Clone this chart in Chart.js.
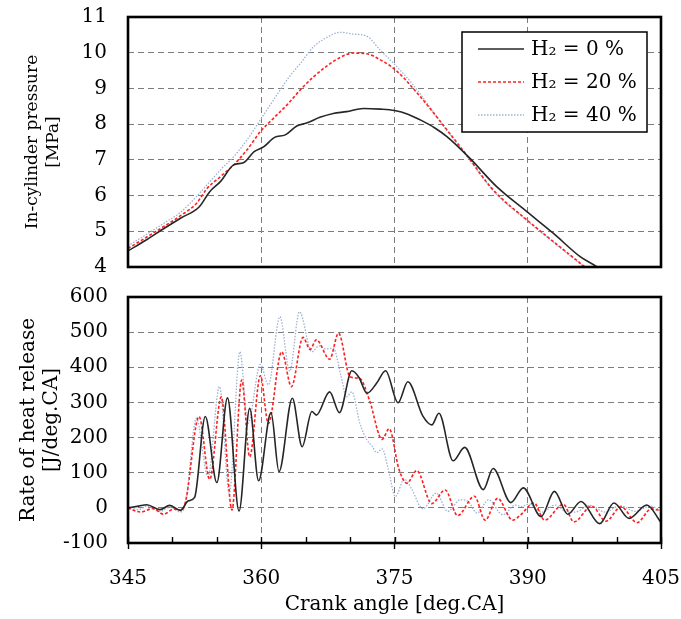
<!DOCTYPE html>
<html>
<head>
<meta charset="utf-8">
<script src="https://cdn.jsdelivr.net/npm/chart.js@4.4.1/dist/chart.umd.min.js"></script>
<style>
  html, body { margin: 0; padding: 0; background: #fff; }
  #wrap { position: relative; width: 681px; height: 619px; }
  #pressure { position: absolute; left: 0; top: 0; }
  #rohr { position: absolute; left: 0; top: 280px; }
</style>
</head>
<body>
<div id="wrap">
  <canvas id="pressure" width="681" height="280"></canvas>
  <canvas id="rohr" width="681" height="339"></canvas>
</div>
<script>
// Series names (hydrogen fraction)
const seriesLabels = ['H\u2082 = 0 %', 'H\u2082 = 20 %', 'H\u2082 = 40 %'];

// In-cylinder pressure [MPa] vs crank angle [deg.CA]
const pAngle0 = [345, 347, 349, 351, 353, 354.2, 355.4, 356.9, 358.0, 359.2, 360.3, 361.5, 362.7, 364.0, 365.1, 366.6, 368.1, 369.6, 371.5, 373.4, 375.0, 376.5, 377.9, 379.5, 380.9, 383.5, 386.5, 389.9, 392.9, 395.9, 397.8, 399.5];
const pValue0 = [4.45, 4.75, 5.07, 5.38, 5.68, 6.11, 6.39, 6.86, 6.92, 7.23, 7.37, 7.63, 7.70, 7.95, 8.03, 8.19, 8.30, 8.35, 8.44, 8.42, 8.38, 8.28, 8.12, 7.90, 7.65, 7.04, 6.25, 5.55, 4.94, 4.29, 4.00, 3.65];

const pAngle20 = [345, 347, 349, 351, 352.7, 353.9, 355.4, 356.9, 358.4, 359.9, 361.4, 362.9, 364.4, 365.9, 367.4, 368.9, 370.4, 371.9, 373.4, 375.1, 377.9, 380.9, 383.1, 386.1, 389.9, 392.9, 396.3, 398.0];
const pValue20 = [4.52, 4.82, 5.13, 5.45, 5.78, 6.20, 6.53, 6.86, 7.28, 7.79, 8.17, 8.54, 8.96, 9.33, 9.63, 9.87, 9.99, 9.97, 9.80, 9.52, 8.77, 7.84, 7.14, 6.16, 5.32, 4.71, 4.03, 3.70];

const pAngle40 = [345, 347, 349, 351, 352.7, 353.9, 355.4, 356.9, 358.4, 359.9, 361.4, 362.9, 364.4, 365.9, 367.4, 368.9, 370.4, 371.9, 373.4, 374.9, 377.1, 380.9, 383.1, 386.1, 389.9, 392.9, 396.3, 398.0];
const pValue40 = [4.59, 4.90, 5.22, 5.55, 5.97, 6.30, 6.72, 7.09, 7.56, 8.12, 8.68, 9.24, 9.70, 10.17, 10.43, 10.57, 10.52, 10.46, 10.07, 9.70, 9.10, 7.82, 7.12, 6.14, 5.30, 4.69, 4.01, 3.68];

// Rate of heat release [J/deg.CA] vs crank angle [deg.CA]
const hAngle0 = [345, 346.2, 347.1, 348.6, 349.7, 350.9, 351.8, 352.5, 353.7, 355.0, 356.2, 357.5, 358.7, 359.7, 361.1, 362.0, 363.5, 364.6, 365.7, 366.2, 367.7, 368.8, 370.2, 371.0, 371.9, 373.0, 374.0, 375.4, 376.5, 378.2, 379.2, 380.0, 381.6, 382.9, 385.0, 386.1, 388.1, 389.5, 391.5, 393.0, 394.5, 396.0, 398.1, 399.7, 401.4, 403.4, 405];
const hValue0 = [0, 5, 9, -5, 7, -7, 20, 30, 260, 72, 313, -9, 283, 77, 271, 103, 312, 174, 274, 264, 330, 271, 390, 371, 326, 355, 390, 299, 359, 261, 236, 269, 134, 172, 52, 112, 15, 57, -25, 47, -18, 18, -45, 14, -30, 8, -42];

const hAngle20 = [345, 346.4, 347.8, 349.0, 350.2, 351.0, 351.5, 353.0, 354.2, 355.5, 356.7, 357.8, 358.7, 359.9, 360.8, 362.3, 363.4, 364.7, 365.5, 366.2, 367.7, 368.7, 370.0, 371.1, 372.2, 373.6, 374.4, 375.5, 376.4, 377.5, 379.2, 380.7, 382.1, 384.0, 385.2, 386.6, 388.3, 389.2, 390.7, 391.9, 394.0, 395.2, 397.2, 398.8, 400.5, 402.3, 403.9, 405];
const hValue20 = [0, -12, -2, -18, -3, -8, 20, 260, 81, 316, -6, 364, 145, 376, 240, 444, 345, 485, 451, 478, 423, 497, 373, 368, 305, 195, 225, 110, 70, 106, 12, 51, -22, 33, -35, 27, -35, -20, 14, -35, 10, -40, 5, -38, 3, -42, -3, -8];

const hAngle40 = [345, 346.2, 347.1, 348.6, 349.7, 350.9, 351.5, 352.7, 354.0, 355.3, 356.4, 357.6, 358.5, 359.9, 360.8, 362.1, 363.2, 364.3, 365.7, 366.5, 367.3, 368.1, 369.0, 369.6, 370.2, 371.1, 371.9, 372.5, 373.0, 373.6, 374.3, 375.1, 376.1, 376.9, 378.2, 379.7, 381.0, 382.4, 383.2, 384.3, 385.6, 387.2, 388.6, 389.3, 390.1, 391.6, 393.1, 394.4, 395.3, 397.0, 398.7, 400.4, 402.1, 403.8, 405];
const hValue40 = [3, -5, 5, -10, 2, -12, 15, 255, 89, 345, 41, 444, 240, 408, 350, 544, 389, 558, 444, 461, 452, 455, 373, 316, 330, 240, 193, 175, 157, 168, 110, 32, 82, 55, -3, 42, -10, 23, 20, -15, 23, -20, 8, 4, 11, -12, 8, -12, -12, 7, -12, 6, -10, 5, -8];

// Axis ticks and titles
const angleTicks = [345, 360, 375, 390, 405];
const pressureTitle = ['In-cylinder pressure', '[MPa]'];
const rohrTitle = ['Rate of heat release', '[J/deg.CA]'];
const angleTitle = 'Crank angle [deg.CA]';

const SERIF = '"DejaVu Serif", "Liberation Serif", serif';
const GRID = '#7c7c7c';

const styles = [
  { borderColor: '#262626', borderWidth: 1.6, borderDash: [] },
  { borderColor: '#ff1f1f', borderWidth: 1.6, borderDash: [3, 2] },
  { borderColor: '#9fb2d2', borderWidth: 1.3, borderDash: [1.5, 1.5] }
];

function pairs(xs, ys) { return xs.map((x, i) => ({ x: x, y: ys[i] })); }

function makeDatasets(sets) {
  return sets.map((s, i) => Object.assign({
    label: seriesLabels[i],
    data: pairs(s[0], s[1]),
    pointRadius: 0,
    fill: false,
    cubicInterpolationMode: 'monotone'
  }, styles[i]));
}

// Keep the plot area fixed: no extra room reserved for overhanging tick labels
function noPadding(s) {
  s.paddingTop = 0; s.paddingBottom = 0; s.paddingLeft = 0; s.paddingRight = 0;
}

// Thick black frame around the plot area
const framePlugin = {
  id: 'frame',
  afterDraw(chart) {
    const a = chart.chartArea, ctx = chart.ctx;
    ctx.save();
    ctx.strokeStyle = '#000';
    ctx.lineWidth = 2.6;
    ctx.setLineDash([]);
    ctx.strokeRect(a.left, a.top, a.right - a.left, a.bottom - a.top);
    ctx.restore();
  }
};

// Inward minor tick marks every 5 deg along the bottom axis
const minorTickPlugin = {
  id: 'minorTicks',
  afterDraw(chart) {
    const x = chart.scales.x, a = chart.chartArea, ctx = chart.ctx;
    ctx.save();
    ctx.strokeStyle = '#000';
    ctx.lineWidth = 1.4;
    for (let v = x.min; v <= x.max; v += 5) {
      const px = Math.round(x.getPixelForValue(v)) + 0.5;
      ctx.beginPath();
      ctx.moveTo(px, a.bottom);
      ctx.lineTo(px, a.bottom - 6);
      ctx.stroke();
    }
    ctx.restore();
  }
};

// Boxed legend in the upper right of the pressure plot
const boxLegendPlugin = {
  id: 'boxLegend',
  afterDraw(chart) {
    const ctx = chart.ctx, a = chart.chartArea;
    const bx = a.right - 199, by = a.top + 15, bw = 185, bh = 100;
    ctx.save();
    ctx.fillStyle = '#fff';
    ctx.fillRect(bx, by, bw, bh);
    ctx.strokeStyle = '#000';
    ctx.lineWidth = 1.5;
    ctx.strokeRect(bx, by, bw, bh);
    ctx.font = '20px ' + SERIF;
    ctx.textBaseline = 'middle';
    ctx.fillStyle = '#000';
    chart.data.datasets.forEach((ds, i) => {
      const y = by + 17 + i * 33;
      ctx.strokeStyle = ds.borderColor;
      ctx.lineWidth = ds.borderWidth;
      ctx.setLineDash(ds.borderDash || []);
      ctx.beginPath();
      ctx.moveTo(bx + 16, y);
      ctx.lineTo(bx + 62, y);
      ctx.stroke();
      ctx.setLineDash([]);
      ctx.fillText(ds.label, bx + 69, y + 1);
    });
    ctx.restore();
  }
};

function edgeColor(lo, hi) {
  return (c) => (c.tick && (c.tick.value === lo || c.tick.value === hi)) ? 'rgba(0,0,0,0)' : GRID;
}

Chart.defaults.font.family = SERIF;
Chart.defaults.color = '#000';

new Chart(document.getElementById('pressure'), {
  type: 'line',
  data: { datasets: makeDatasets([[pAngle0, pValue0], [pAngle20, pValue20], [pAngle40, pValue40]]) },
  options: {
    responsive: false,
    animation: false,
    events: [],
    layout: { padding: { left: 0, right: 20, top: 17, bottom: 0 } },
    plugins: { legend: { display: false }, tooltip: { enabled: false } },
    scales: {
      x: {
        type: 'linear', min: 345, max: 405,
        afterBuildTicks: (s) => { s.ticks = angleTicks.map(v => ({ value: v })); },
        afterFit: (s) => { s.height = 13; noPadding(s); },
        ticks: { display: false },
        grid: { color: edgeColor(345, 405), lineWidth: 1, drawTicks: false },
        border: { display: false, dash: [6, 4] }
      },
      y: {
        min: 4, max: 11,
        afterFit: (s) => { s.width = 128; noPadding(s); },
        ticks: { stepSize: 1, padding: 21, font: { size: 20 } },
        grid: { color: edgeColor(4, 11), lineWidth: 1, drawTicks: false },
        border: { display: false, dash: [6, 4] },
        title: { display: true, text: pressureTitle, font: { size: 17, lineHeight: 1.25 }, padding: { top: 22, bottom: 0 } }
      }
    }
  },
  plugins: [framePlugin, boxLegendPlugin]
});

new Chart(document.getElementById('rohr'), {
  type: 'line',
  data: { datasets: makeDatasets([[hAngle0, hValue0], [hAngle20, hValue20], [hAngle40, hValue40]]) },
  options: {
    responsive: false,
    animation: false,
    events: [],
    layout: { padding: { left: 0, right: 20, top: 17, bottom: 0 } },
    plugins: { legend: { display: false }, tooltip: { enabled: false } },
    scales: {
      x: {
        type: 'linear', min: 345, max: 405,
        afterBuildTicks: (s) => { s.ticks = angleTicks.map(v => ({ value: v })); },
        afterFit: (s) => { s.height = 76; noPadding(s); },
        ticks: { padding: 18, font: { size: 20 }, maxRotation: 0 },
        grid: { color: edgeColor(345, 405), lineWidth: 1, drawTicks: true, tickLength: 6, tickColor: '#000', tickWidth: 1.4 },
        border: { display: false, dash: [6, 4] },
        title: { display: true, text: angleTitle, font: { size: 20, lineHeight: 1.2 }, padding: { top: 0, bottom: 2 } }
      },
      y: {
        min: -100, max: 600,
        afterFit: (s) => { s.width = 128; noPadding(s); },
        ticks: { stepSize: 100, padding: 20, font: { size: 20 } },
        grid: { color: edgeColor(-100, 600), lineWidth: 1, drawTicks: false },
        border: { display: false, dash: [6, 4] },
        title: { display: true, text: rohrTitle, font: { size: 20, lineHeight: 1.15 }, padding: { top: 17, bottom: 0 } }
      }
    }
  },
  plugins: [framePlugin, minorTickPlugin]
});
</script>
</body>
</html>
